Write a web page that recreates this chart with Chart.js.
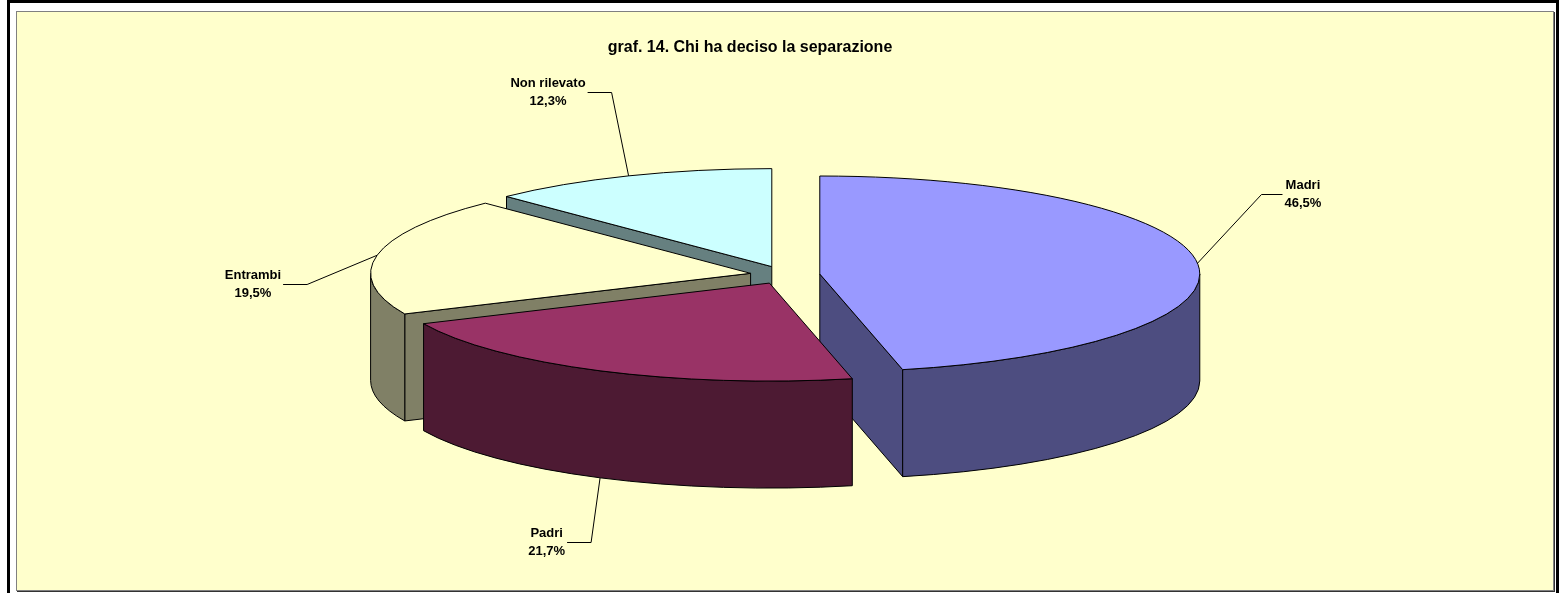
<!DOCTYPE html>
<html><head><meta charset="utf-8">
<script src="https://cdn.jsdelivr.net/npm/chart.js@4/dist/chart.umd.min.js"></script>
<style>
html,body{margin:0;padding:0;background:#fff;width:1559px;height:593px;overflow:hidden;}
#frame{position:absolute;left:7px;top:0;width:1546px;height:610px;border:3px solid #000;box-sizing:content-box;}
#panel{position:absolute;left:16px;top:11px;width:1536px;height:578px;background:#FFFFCC;border:1px solid #808080;box-shadow:1px 1px 0 #333;}
canvas{position:absolute;left:0;top:0;}
</style></head><body>
<div id="frame"></div><div id="panel"></div>
<canvas id="c" width="1559" height="593"></canvas>
<script>
// ---- data ----
const TITLE = 'graf. 14. Chi ha deciso la separazione';
const categories = ['Madri', 'Padri', 'Entrambi', 'Non rilevato'];
const shares = [46.5, 21.7, 19.5, 12.3];
// ---- styles ----
const topColors = ['#9999FF', '#993366', '#FFFFCC', '#CCFFFF'];
const sideColors = ['#4D4D80', '#4D1A33', '#808066', '#668080'];
const GEO = {cx: 785, cy: 275, rx: 380, ry: 98, depth: 107, explode: 35};
const LABEL_LAYOUT = [
  {anchor: 'top', elbow: [64, -69], arm: 21},
  {anchor: 'bottom', elbow: [-9, 64], arm: -24},
  {anchor: 'top', elbow: [-70, 29], arm: -24},
  {anchor: 'top', elbow: [-17, -84], arm: -24}
];
const FONT = '"Liberation Sans", Arial, sans-serif';

function fmtPct(v) { return v.toFixed(1).replace('.', ',') + '%'; }

const pie3d = {
  id: 'pie3d',
  afterUpdate(chart) {
    const meta = chart.getDatasetMeta(0);
    const ca = chart.chartArea;
    chart.$base = {x: (ca.left + ca.right) / 2, y: (ca.top + ca.bottom) / 2};
    meta.data.forEach(arc => {
      const mid = (arc.startAngle + arc.endAngle) / 2;
      const R = arc.outerRadius;
      const e = GEO.explode / GEO.rx * R;
      arc.x = chart.$base.x + Math.cos(mid) * e;
      arc.y = chart.$base.y + Math.sin(mid) * e;
    });
  },
  map(chart, X, Y, R) {
    const b = chart.$base;
    return [GEO.cx + (X - b.x) * GEO.rx / R, GEO.cy + (Y - b.y) * GEO.ry / R];
  },
  beforeDatasetsDraw(chart) {
    const ctx = chart.ctx;
    const meta = chart.getDatasetMeta(0);
    const D = GEO.depth;
    const items = meta.data.map((arc, i) => {
      const R = arc.outerRadius;
      const c = this.map(chart, arc.x, arc.y, R);
      return {arc, i, R, c};
    });
    items.sort((a, b) => a.c[1] - b.c[1]);
    ctx.save();
    ctx.lineWidth = 1;
    ctx.strokeStyle = '#000';
    ctx.lineJoin = 'round';
    for (const it of items) {
      const {arc, i, c} = it;
      const a1 = arc.startAngle, a2 = arc.endAngle;
      ctx.fillStyle = sideColors[i];
      const face = (ang) => {
        const p = [c[0] + GEO.rx * Math.cos(ang), c[1] + GEO.ry * Math.sin(ang)];
        ctx.beginPath();
        ctx.moveTo(c[0], c[1]);
        ctx.lineTo(p[0], p[1]);
        ctx.lineTo(p[0], p[1] + D);
        ctx.lineTo(c[0], c[1] + D);
        ctx.closePath();
        ctx.fill(); ctx.stroke();
      };
      if (Math.cos(a1) < -1e-6) face(a1);
      if (Math.cos(a2) > 1e-6) face(a2);
      // outer wall on the front half (0..PI)
      const s = Math.max(a1, 0), e = Math.min(a2, Math.PI);
      if (e > s) {
        ctx.beginPath();
        ctx.ellipse(c[0], c[1], GEO.rx, GEO.ry, 0, s, e, false);
        ctx.ellipse(c[0], c[1] + D, GEO.rx, GEO.ry, 0, e, s, true);
        ctx.closePath();
        ctx.fill(); ctx.stroke();
      }
    }
    ctx.restore();
    // transform for the library's own arc drawing (top faces)
    const R0 = meta.data[0].outerRadius;
    const b = chart.$base;
    ctx.save();
    ctx.translate(GEO.cx, GEO.cy);
    ctx.scale(GEO.rx / R0, GEO.ry / R0);
    ctx.translate(-b.x, -b.y);
  },
  afterDatasetsDraw(chart) {
    const ctx = chart.ctx;
    ctx.restore();
    const meta = chart.getDatasetMeta(0);
    ctx.save();
    ctx.lineWidth = 1;
    ctx.strokeStyle = '#000';
    ctx.lineJoin = 'round';
    meta.data.forEach((arc, i) => {
      const c = this.map(chart, arc.x, arc.y, arc.outerRadius);
      ctx.beginPath();
      ctx.moveTo(c[0], c[1]);
      ctx.ellipse(c[0], c[1], GEO.rx, GEO.ry, 0, arc.startAngle, arc.endAngle, false);
      ctx.closePath();
      ctx.stroke();
    });
    // labels with leader lines
    ctx.font = 'bold 13px ' + FONT;
    ctx.textBaseline = 'middle';
    ctx.textAlign = 'center';
    ctx.fillStyle = '#000';
    meta.data.forEach((arc, i) => {
      const L = LABEL_LAYOUT[i];
      const c = this.map(chart, arc.x, arc.y, arc.outerRadius);
      const mid = (arc.startAngle + arc.endAngle) / 2;
      const ax = c[0] + GEO.rx * Math.cos(mid);
      const ay = c[1] + GEO.ry * Math.sin(mid) + (L.anchor === 'bottom' ? GEO.depth : 0);
      const ex = ax + L.elbow[0], ey = ay + L.elbow[1];
      const fx = ex + L.arm;
      ctx.beginPath();
      ctx.moveTo(ax, ay);
      ctx.lineTo(ex, Math.round(ey) + 0.5);
      ctx.lineTo(fx, Math.round(ey) + 0.5);
      ctx.stroke();
      const lines = [categories[i], fmtPct(shares[i])];
      const w = Math.max(...lines.map(t => ctx.measureText(t).width));
      const tx = fx + Math.sign(L.arm) * (w / 2 + 2);
      ctx.fillText(lines[0], tx, Math.round(ey) - 8.5);
      ctx.fillText(lines[1], tx, Math.round(ey) + 9.5);
    });
    ctx.restore();
  }
};

Chart.defaults.font.family = FONT;
new Chart(document.getElementById('c'), {
  type: 'pie',
  data: {
    labels: categories,
    datasets: [{
      data: shares,
      backgroundColor: topColors,
      borderWidth: 0,
      clip: false
    }]
  },
  options: {
    responsive: false,
    animation: false,
    events: [],
    layout: {padding: {left: 16, right: 75, top: 0, bottom: 0}},
    plugins: {
      legend: {display: false},
      tooltip: {enabled: false},
      title: {
        display: true,
        text: TITLE,
        color: '#000',
        font: {family: FONT, size: 16, weight: 'bold'},
        padding: {top: 38, bottom: 0}
      }
    }
  },
  plugins: [pie3d]
});
</script>
</body></html>
